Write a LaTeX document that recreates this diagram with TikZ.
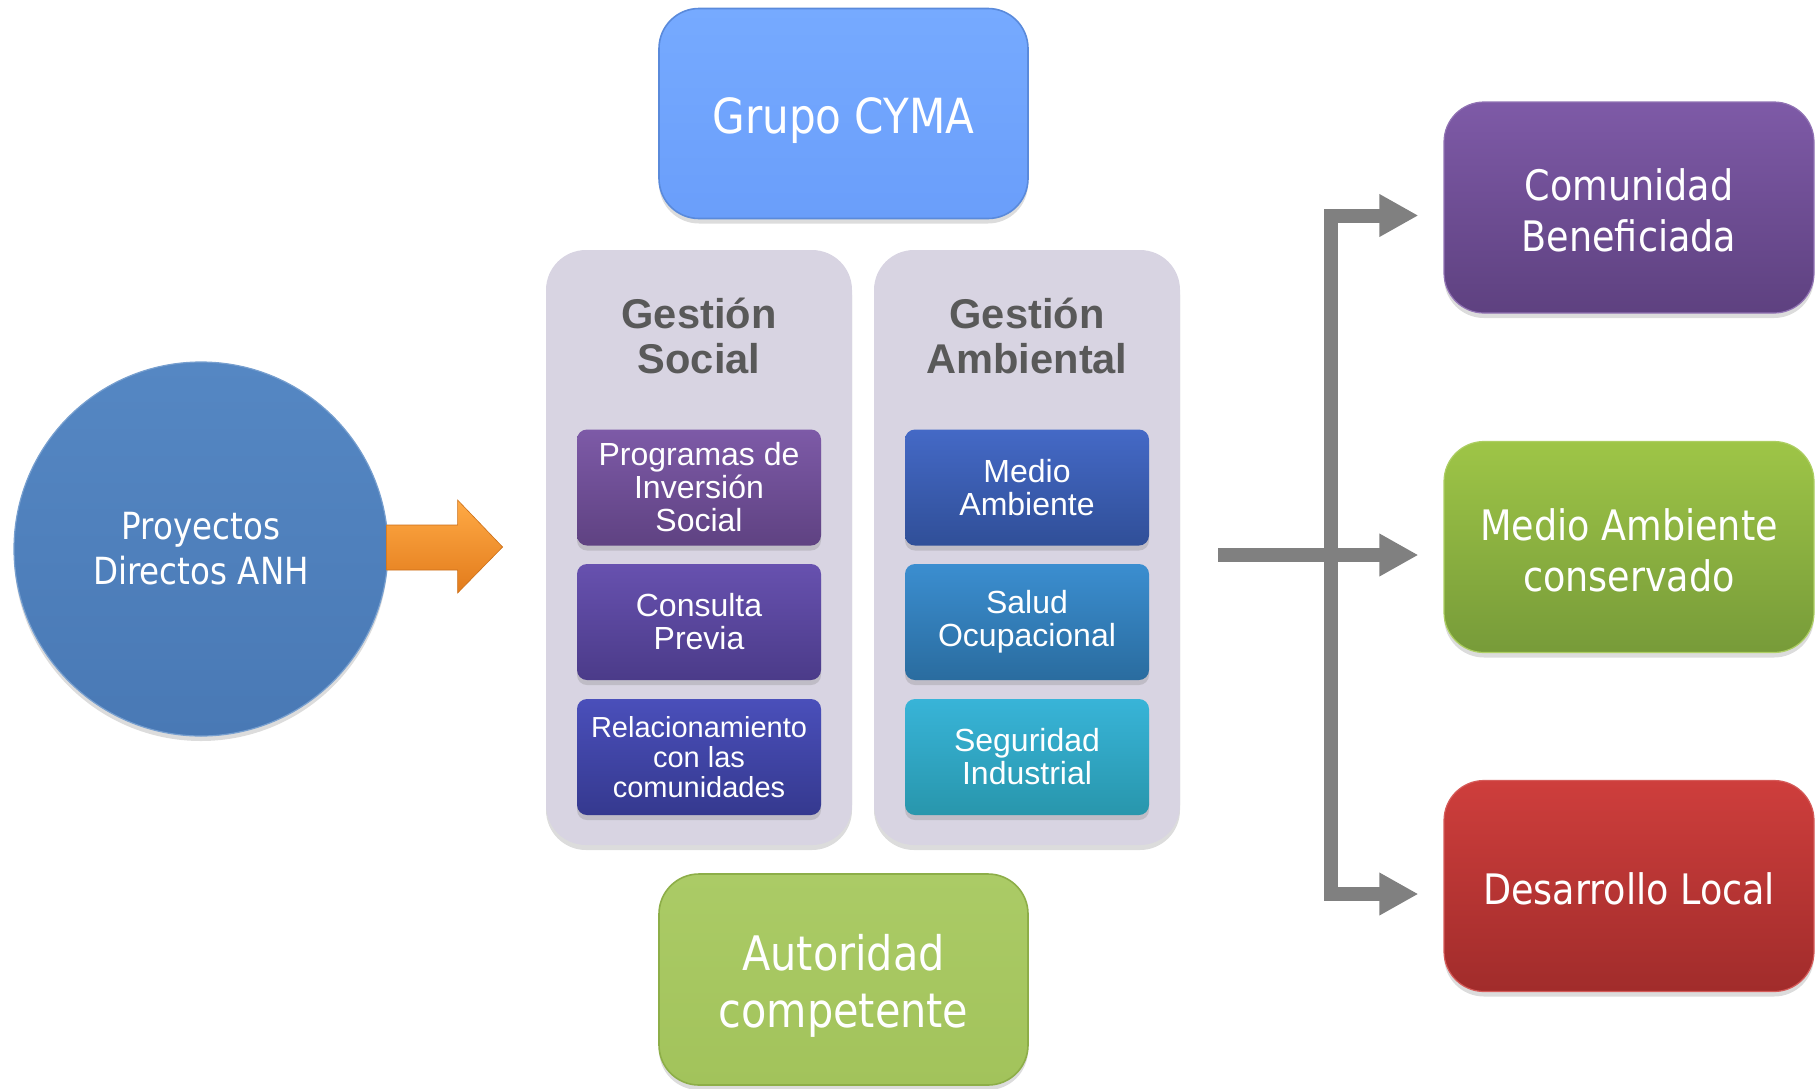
\documentclass[tikz,border=0pt]{standalone}
\usepackage{fontspec}
\setmainfont{Liberation Sans}
\newfontfamily\tahfont[FakeStretch=0.87]{DejaVu Sans}
\usetikzlibrary{shadows,arrows.meta,calc}
\definecolor{cymaA}{HTML}{76AAFF}
\definecolor{cymaB}{HTML}{6A9EFA}
\definecolor{cymaD}{HTML}{5A8ADB}
\definecolor{autA}{HTML}{ABCB66}
\definecolor{autB}{HTML}{A2C35B}
\definecolor{autD}{HTML}{8DAE48}
\definecolor{circA}{HTML}{5587C3}
\definecolor{circB}{HTML}{4979B5}
\definecolor{contC}{HTML}{D8D4E2}
\definecolor{progA}{HTML}{7D5AA7}
\definecolor{progB}{HTML}{5F4282}
\definecolor{consA}{HTML}{6751AF}
\definecolor{consB}{HTML}{4B3B89}
\definecolor{relA}{HTML}{4A4FBA}
\definecolor{relB}{HTML}{35398F}
\definecolor{medA}{HTML}{4469C6}
\definecolor{medB}{HTML}{304F98}
\definecolor{salA}{HTML}{3B8ED0}
\definecolor{salB}{HTML}{2A6C9F}
\definecolor{segA}{HTML}{38B4D8}
\definecolor{segB}{HTML}{2896AC}
\definecolor{comA}{HTML}{7E5AA7}
\definecolor{comB}{HTML}{5E4180}
\definecolor{macA}{HTML}{9EC547}
\definecolor{macB}{HTML}{779B39}
\definecolor{desA}{HTML}{CE3E3C}
\definecolor{desB}{HTML}{A12C2B}
\definecolor{barG}{HTML}{808080}
\definecolor{headG}{HTML}{595959}
\definecolor{oraA}{HTML}{FFAA45}
\definecolor{oraB}{HTML}{E27B1C}
\begin{document}
\begin{tikzpicture}[x=0.5pt,y=-0.5pt,
  sh/.style={drop shadow={opacity=0.28,shadow xshift=0pt,shadow yshift=-2.5pt}},
  topbox/.style={rounded corners=20pt, minimum width=184.5pt, minimum height=105pt,
    inner sep=0pt, sh, line width=0.8pt},
  contbox/.style={rounded corners=20pt, fill=contC, minimum width=153pt,
    minimum height=297.5pt, inner sep=0pt, sh},
  headtxt/.style={text=headG, align=center, inner sep=0pt,
    font=\bfseries\fontsize{20.8}{22.5}\selectfont},
  innerbox/.style={rounded corners=5pt, minimum width=122pt, minimum height=58pt,
    text=white, align=center, inner sep=0pt, sh, font=\fontsize{16}{16.5}\selectfont},
  outbox/.style={rounded corners=20pt, minimum width=185pt, minimum height=105.5pt,
    inner sep=0pt, sh, line width=0.6pt},
  wtxt/.style={text=white, align=center, inner sep=0pt},
  outtxt/.style={wtxt, font=\tahfont\fontsize{21}{25.5}\selectfont},
  graybar/.style={draw=barG, line width=7pt}
]
\useasboundingbox (0,0) rectangle (1820,1088);

% top and bottom boxes
\node[topbox, top color=cymaA, bottom color=cymaB, draw=cymaD] (cyma) at (843.5,113.5) {};
\node[wtxt, font=\tahfont\fontsize{24.2}{29}\selectfont] (cymat) at ($(cyma.center)+(0,7)$) {Grupo CYMA};
\node[topbox, minimum height=105.5pt, top color=autA, bottom color=autB, draw=autD] (aut) at (843.5,979.5) {};
\node[wtxt, font=\tahfont\fontsize{23.8}{28.5}\selectfont] (autt) at ($(aut.center)+(0,6)$) {Autoridad\\competente};

% circle
\node[circle, minimum size=187pt, inner sep=0pt, top color=circA, bottom color=circB,
  draw=circA!80!white, line width=0.6pt, sh, text=white, align=center,
  font=\tahfont\fontsize{18.7}{22.5}\selectfont] (proy) at (201,549) {Proyectos\\Directos ANH};

% orange block arrow
\shade[top color=oraA, bottom color=oraB, draw=oraB!90!black, line width=0.3pt]
  ($(proy.east)+(-2,-24)$) -- ($(proy.east)+(69,-24)$) -- ($(proy.east)+(69,-49)$)
  -- ($(proy.east)+(114,-2)$) -- ($(proy.east)+(69,44)$) -- ($(proy.east)+(69,21)$)
  -- ($(proy.east)+(-2,21)$) -- cycle;

% containers
\node[contbox] (gs) at (699,547.5) {};
\node[contbox] (ga) at (1027,547.5) {};
\node[headtxt] (gsh) at (699,336) {Gestión\\Social};
\node[headtxt] (gah) at (1027,336) {Gestión\\Ambiental};

% inner boxes
\node[innerbox, top color=progA, bottom color=progB] (p1) at (699,487.5) {Programas de\\Inversión\\Social};
\node[innerbox, top color=consA, bottom color=consB] (p2) at (699,622) {Consulta\\Previa};
\node[innerbox, top color=relA, bottom color=relB, font=\fontsize{14.5}{15}\selectfont] (p3) at (699,757) {Relacionamiento\\con las\\comunidades};
\node[innerbox, top color=medA, bottom color=medB] (a1) at (1027,487.5) {Medio\\Ambiente};
\node[innerbox, top color=salA, bottom color=salB] (a2) at (1027,622) {Salud\\Ocupacional};
\node[innerbox, top color=segA, bottom color=segB] (a3) at (1027,757) {Seguridad\\Industrial};

% right boxes
\node[outbox, top color=comA, bottom color=comB, draw=comA!85!white] (r1) at (1629,207.5) {};
\node[outtxt] (r1t) at ($(r1.center)+(0,3)$) {Comunidad\\Beneficiada};
\node[outbox, top color=macA, bottom color=macB, draw=macA!85!white] (r2) at (1629,547) {};
\node[outtxt] (r2t) at ($(r2.center)+(0,3)$) {Medio Ambiente\\conservado};
\node[outbox, top color=desA, bottom color=desB, draw=desA!85!white] (r3) at (1629,886) {};
\node[outtxt] (r3t) at ($(r3.center)+(0,3)$) {Desarrollo Local};

% connectors
\coordinate (src) at (1218,555);
\coordinate (vx) at (1331,555);
\draw[graybar, -{Triangle[length=19.5pt,width=20pt]}, shorten >=12.5pt] (src) -- (src -| r2.west);
\draw[graybar, line join=miter, {Triangle[length=19.5pt,width=20pt]}-{Triangle[length=19.5pt,width=20pt]}, shorten <=12.5pt, shorten >=12.5pt]
  ($(r1.west)+(0,8)$) -| ($(vx |- r3.west)+(0,8)$) -- ($(r3.west)+(0,8)$);
\end{tikzpicture}
\end{document}
